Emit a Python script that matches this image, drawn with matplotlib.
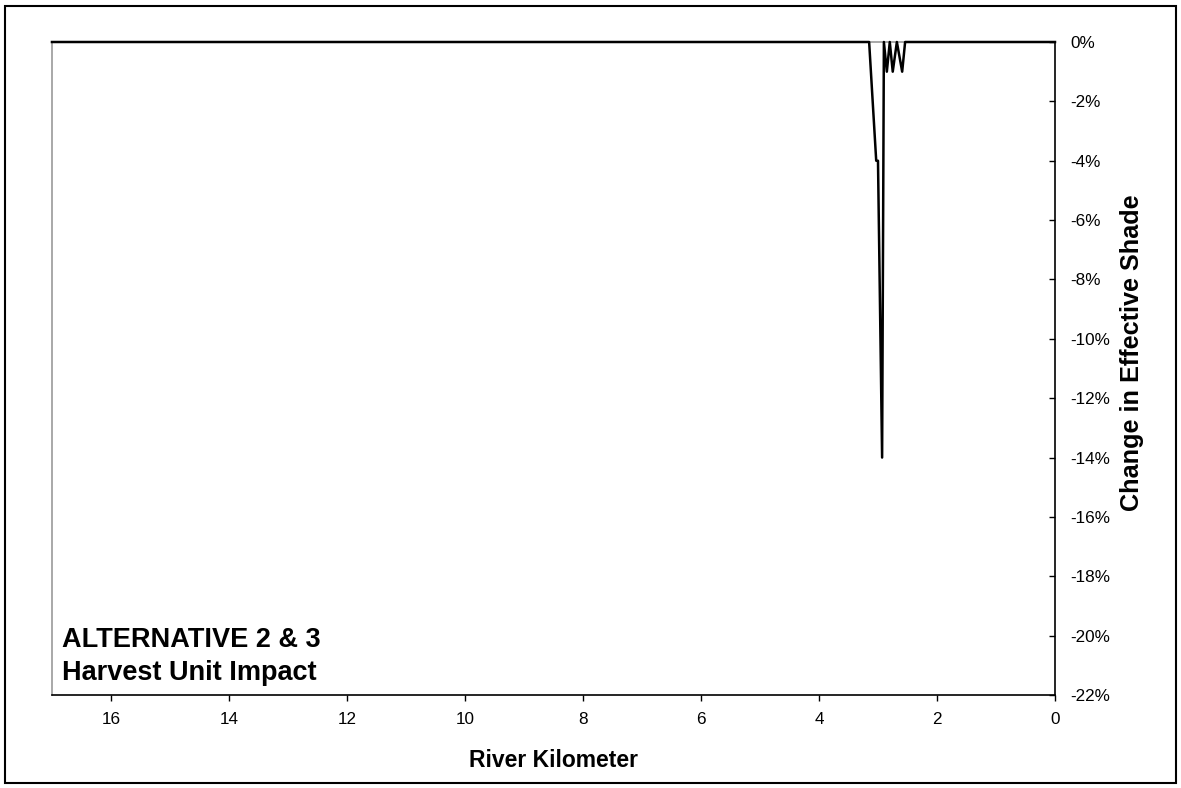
"""Change in effective shade along the river, alternative 2 & 3."""

import matplotlib
matplotlib.use("Agg")
import matplotlib.pyplot as plt
from matplotlib.patches import Rectangle
from matplotlib.ticker import FuncFormatter

plt.rcParams["font.family"] = ["Liberation Sans", "DejaVu Sans"]

# river kilometer (downstream to the right) and change in effective shade (%)
river_km = [17.0, 3.15, 3.12, 3.03, 3.0, 2.93, 2.90, 2.85, 2.80, 2.75, 2.68, 2.59, 2.54, 0.0]
shade_change = [0.0, 0.0, -1.0, -4.0, -4.0, -14.0, 0.0, -1.0, 0.0, -1.0, 0.0, -1.0, 0.0, 0.0]

x_ticks = [16, 14, 12, 10, 8, 6, 4, 2, 0]
y_ticks = [0, -2, -4, -6, -8, -10, -12, -14, -16, -18, -20, -22]

fig = plt.figure(figsize=(11.81, 7.88), dpi=100)
ax = fig.add_axes([0.044, 0.118, 0.8493, 0.8287])

ax.plot(river_km, shade_change, color="black", linewidth=1.8, clip_on=False, zorder=3)

ax.set_xlim(17, 0)
ax.set_ylim(-22, 0)
ax.set_xticks(x_ticks)
ax.set_yticks(y_ticks)
ax.yaxis.tick_right()
ax.yaxis.set_label_position("right")
ax.yaxis.set_major_formatter(FuncFormatter(lambda v, _: f"{v:.0f}%"))

ax.tick_params(axis="x", direction="out", length=4, width=1, labelsize=12.3, pad=8)
ax.tick_params(axis="y", direction="in", length=4, width=1, labelsize=12.3, pad=11)

ax.spines["left"].set_color("#999999")
ax.spines["top"].set_color("#999999")
ax.spines["bottom"].set_color("black")
ax.spines["right"].set_color("black")
for side in ("left", "top", "bottom", "right"):
    ax.spines[side].set_linewidth(1.2)

ax.set_xlabel("River Kilometer", fontsize=16.5, fontweight="bold", labelpad=16)
ax.set_ylabel("Change in Effective Shade", fontsize=18.2, fontweight="bold")
ax.yaxis.set_label_coords(1.065, 0.524)

ax.text(0.01, 0.085, "ALTERNATIVE 2 & 3", transform=ax.transAxes,
        fontsize=19.5, fontweight="bold", va="center", ha="left")
ax.text(0.01, 0.033, "Harvest Unit Impact", transform=ax.transAxes,
        fontsize=19.5, fontweight="bold", va="center", ha="left")

# outer frame around the whole chart
fig.patches.append(Rectangle((0.004, 0.006), 0.992, 0.986, transform=fig.transFigure,
                             fill=False, edgecolor="black", linewidth=1.5))

fig.savefig("out.png", dpi=100)
